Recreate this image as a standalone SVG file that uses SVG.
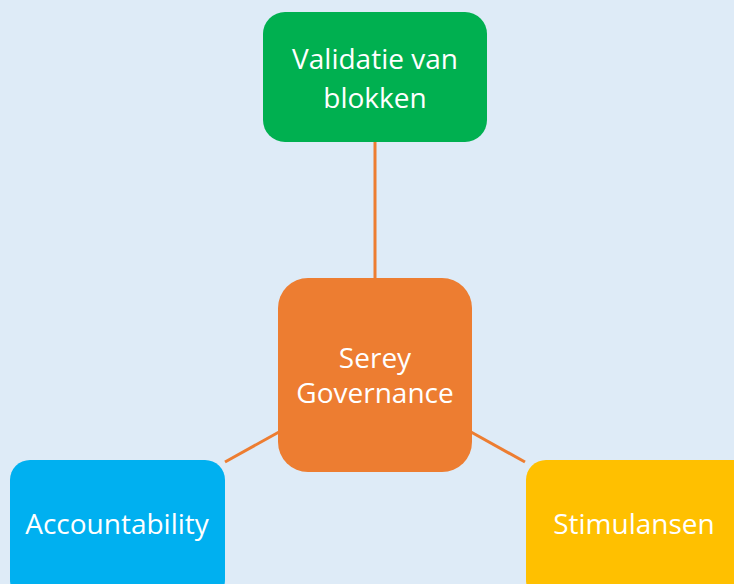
<svg xmlns="http://www.w3.org/2000/svg" width="734" height="584" viewBox="0 0 734 584">
<style>
.t{font-family:"Open Sans","Noto Sans","Liberation Sans",sans-serif;font-size:28px;fill:#ffffff;text-anchor:middle}
.c{stroke:#ED7D31;stroke-width:3;fill:none}
</style>
<rect x="0" y="0" width="734" height="584" fill="#DEEBF7"/>
<g id="connectors">
<line class="c" x1="375" y1="142" x2="375" y2="279"/>
<line class="c" x1="225" y1="462" x2="279" y2="432"/>
<line class="c" x1="525" y1="462" x2="471" y2="432"/>
</g>
<g id="validatie">
<rect x="263" y="12" width="224" height="130" rx="22" fill="#00B050"/>
<text class="t" x="375" y="69">Validatie van</text>
<text class="t" x="375" y="108">blokken</text>
</g>
<g id="serey">
<rect x="278" y="278" width="194" height="194" rx="30" fill="#ED7D31"/>
<text class="t" x="375" y="368">Serey</text>
<text class="t" x="375" y="403">Governance</text>
</g>
<g id="accountability">
<rect x="10" y="460" width="215" height="140" rx="20" fill="#00B0F0"/>
<text class="t" x="117" y="534">Accountability</text>
</g>
<g id="stimulansen">
<rect x="526" y="460" width="230" height="140" rx="20" fill="#FFC000"/>
<text class="t" x="634" y="534">Stimulansen</text>
</g>
</svg>
